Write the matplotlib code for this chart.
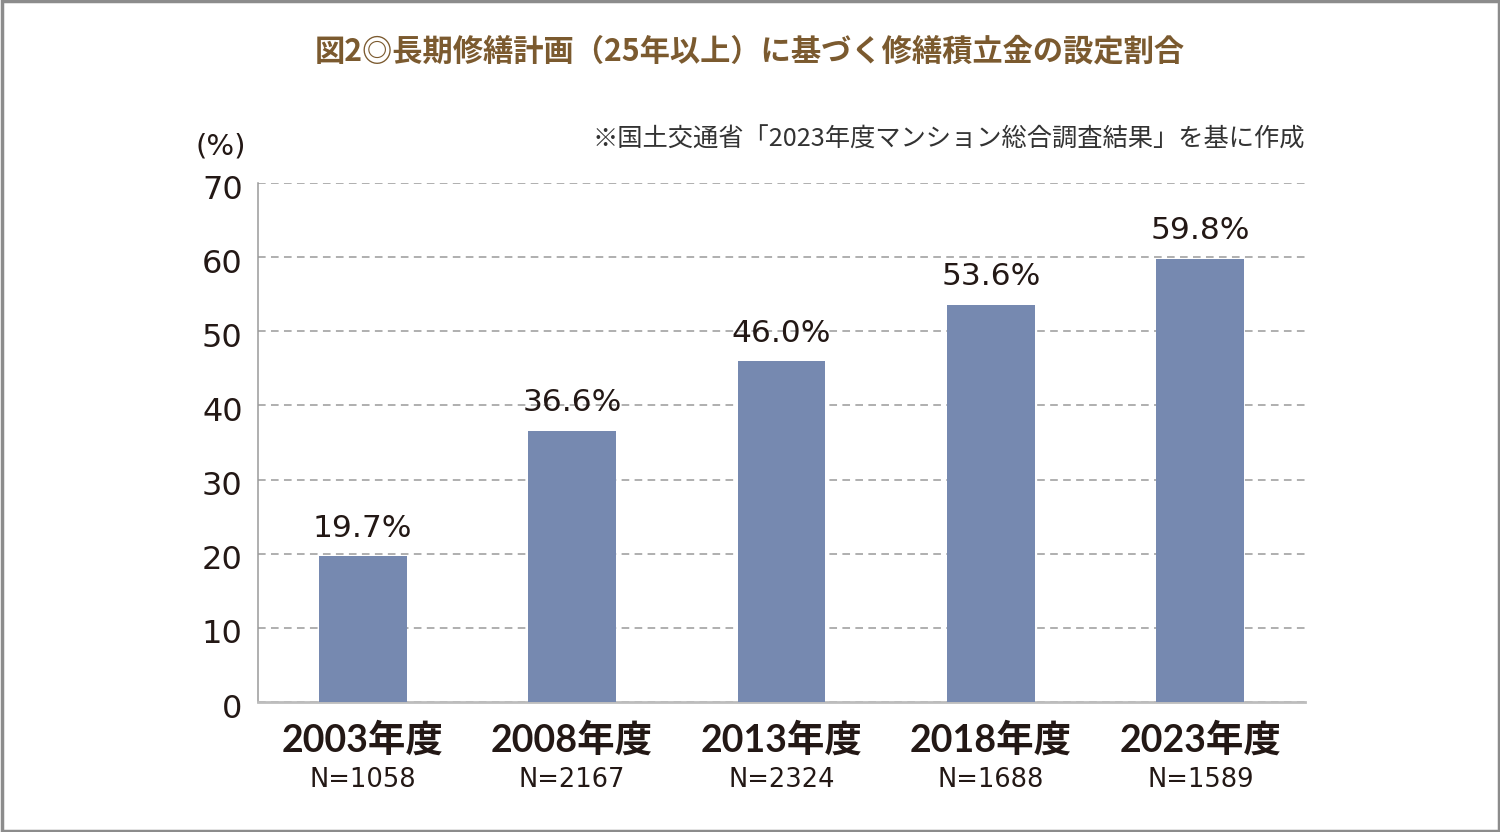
import matplotlib
matplotlib.use("Agg")
import matplotlib.pyplot as plt
from matplotlib.patches import Rectangle
from matplotlib.transforms import ScaledTranslation

plt.rcParams['font.family'] = ['Noto Sans CJK JP', 'DejaVu Sans']

years = ["2003年度", "2008年度", "2013年度", "2018年度", "2023年度"]
samples = ["N=1058", "N=2167", "N=2324", "N=1688", "N=1589"]
values = [19.7, 36.6, 46.0, 53.6, 59.8]
yticks = [0, 10, 20, 30, 40, 50, 60, 70]

title = "図2◎長期修繕計画（25年以上）に基づく修繕積立金の設定割合"
source = "※国土交通省「2023年度マンション総合調査結果」を基に作成"

TXT = "#231815"
NUMFONT = ['DejaVu Sans', 'Noto Sans CJK JP']
LABFONT = ['Lato', 'Noto Sans CJK JP']

fig = plt.figure(figsize=(15, 8.32), dpi=100)
ax = fig.add_axes([0.172, 0.1562, 0.698, 0.6238])

x = list(range(len(values)))
ax.bar(x, values, width=0.42, color="#7689b0", zorder=3)
for xi, v in zip(x, values):
    ax.annotate(f"{v:.1f}%", (xi, v), xytext=(0, 14), textcoords="offset points",
                ha="center", va="baseline", fontsize=22.5, family=NUMFONT,
                color=TXT, zorder=4)

ax.set_xlim(-0.5, 4.5)
ax.set_ylim(0, 70)
ax.set_yticks(yticks)
ax.set_yticklabels([str(t) for t in yticks], fontsize=23, color=TXT, family=NUMFONT)
ax.tick_params(axis="y", length=0, pad=11)
off = ScaledTranslation(0, -7 / 100, fig.dpi_scale_trans)
for lab in ax.get_yticklabels():
    lab.set_verticalalignment("center")
    lab.set_transform(lab.get_transform() + off)
ax.set_xticks(x)
ax.set_xticklabels([])
ax.tick_params(axis="x", length=0)

ax.yaxis.grid(True, linestyle=(0, (5, 3.5)), color="#9a9a9a", linewidth=1.1, zorder=0)
for s in ["top", "right"]:
    ax.spines[s].set_visible(False)
ax.spines["left"].set_color("#9a9a9a")
ax.spines["left"].set_linewidth(1.1)
ax.spines["bottom"].set_color("#bdbdbd")
ax.spines["bottom"].set_linewidth(2)

for xi, y, n in zip(x, years, samples):
    ax.text(xi, -6.74, y, ha="center", va="baseline", fontsize=27, fontweight="bold",
            family=LABFONT, color=TXT, clip_on=False)
    ax.text(xi, -11.5, n, ha="center", va="baseline", fontsize=18.5,
            family=NUMFONT, color=TXT, clip_on=False)

fig.text(0.5, 0.9375, title, ha="center", va="center", fontsize=21.8,
         fontweight="bold", color="#7b5a2f")
fig.text(0.87, 0.832, source, ha="right", va="center", fontsize=18.2,
         color="#333333")
fig.text(221 / 1500, 1 - 146 / 832, "(%)", ha="center", va="center", fontsize=21,
         family=NUMFONT, color=TXT)

fig.patches.append(Rectangle((0.001, 0.001), 0.998, 0.998, transform=fig.transFigure,
                             fill=False, edgecolor="#8c8c8c", linewidth=2.5))

fig.savefig("out.png", dpi=100, facecolor="white")
